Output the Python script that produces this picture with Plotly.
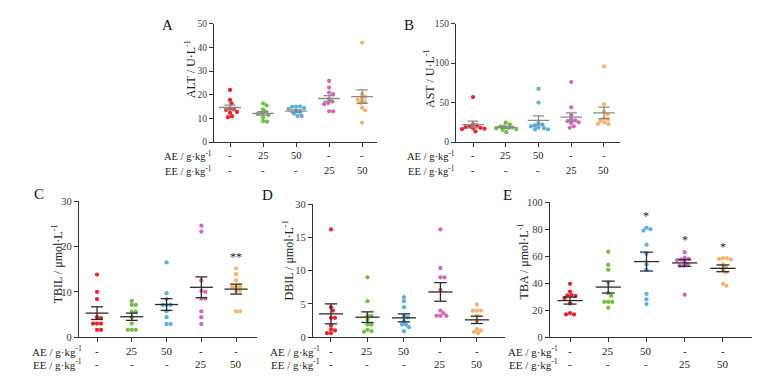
import plotly.graph_objects as go

# The page body has an 8px default margin, so the figure is drawn 8px in from
# the window's top-left corner; all pixel positions below are window pixels.
WIN_W, WIN_H = 769, 380
OFF = 8
W, H = WIN_W - OFF, WIN_H - OFF

# ---------------- data ----------------
AE_dose = ["-", "25", "50", "-", "-"]
EE_dose = ["-", "-", "-", "25", "50"]
group_colors = ["#e8262b", "#72bf44", "#5cafe2", "#d766bb", "#f8b46c"]

ALT_values = [
    [22.0, 17.8, 16.3, 14.1, 13.8, 13.5, 12.7, 12.3, 10.9, 10.5],
    [16.3, 15.5, 13.8, 12.7, 12.3, 11.8, 11.4, 10.5, 8.9, 8.6],
    [15.0, 15.0, 14.9, 14.3, 14.0, 13.4, 12.7, 12.0, 11.0, 11.0],
    [25.8, 23.0, 20.9, 20.2, 18.2, 17.1, 16.5, 16.0, 13.0, 13.0],
    [42.0, 20.2, 19.1, 18.2, 17.9, 17.1, 16.5, 14.5, 13.4, 8.2],
]
ALT_mean = [14.6, 12.1, 13.1, 18.4, 19.2]
ALT_sem = [1.0, 0.7, 0.5, 1.2, 2.8]
ALT_ticks = [0, 10, 20, 30, 40, 50]
ALT_ticklabels = ["0", "10", "20", "30", "40", "50"]

AST_values = [
    [57.0, 22.5, 21.0, 20.0, 19.0, 18.0, 17.5, 17.0, 16.5, 13.5],
    [24.5, 22.5, 20.0, 19.5, 18.5, 18.0, 17.5, 16.5, 15.5, 12.5],
    [67.5, 50.0, 24.0, 22.0, 21.0, 20.0, 18.5, 17.5, 16.0, 16.0],
    [76.0, 44.0, 34.0, 29.0, 27.5, 26.5, 25.0, 24.0, 20.0, 18.0],
    [96.0, 48.0, 38.0, 35.0, 30.0, 29.0, 27.0, 25.0, 23.0, 23.0],
]
AST_mean = [22.2, 18.5, 27.5, 31.5, 37.0]
AST_sem = [4.3, 1.1, 5.6, 5.4, 7.3]
AST_ticks = [0, 50, 100, 150]
AST_ticklabels = ["0", "50", "100", "150"]

TBIL_values = [
    [13.8, 10.0, 8.4, 4.4, 4.2, 3.0, 3.0, 3.0, 1.6, 1.6],
    [8.0, 7.1, 7.1, 5.6, 5.6, 4.4, 3.0, 1.6, 1.6, 1.6],
    [16.5, 9.7, 8.4, 7.1, 7.1, 7.1, 5.7, 4.4, 2.9, 2.9],
    [24.6, 23.3, 12.5, 10.2, 10.0, 8.5, 8.5, 5.7, 4.4, 2.9],
    [15.2, 13.9, 12.5, 11.1, 11.1, 11.1, 10.2, 10.2, 5.7, 5.7],
]
TBIL_mean = [5.3, 4.5, 7.2, 11.0, 10.6]
TBIL_sem = [1.4, 0.8, 1.3, 2.3, 1.1]
TBIL_ticks = [0, 10, 20, 30]
TBIL_ticklabels = ["0", "10", "20", "30"]
TBIL_sig = ["", "", "", "", "**"]

DBIL_values = [
    [16.2, 4.5, 4.0, 2.9, 2.9, 1.8, 1.2, 1.0, 0.6, 0.6],
    [9.0, 5.4, 3.2, 3.2, 2.6, 1.9, 1.9, 1.1, 0.9, 0.8],
    [6.0, 5.4, 4.5, 3.2, 3.0, 2.4, 1.9, 1.9, 1.5, 0.9],
    [16.2, 10.4, 9.0, 9.0, 7.1, 4.0, 3.6, 3.2, 3.2, 3.2],
    [4.9, 4.0, 4.0, 4.0, 3.2, 2.4, 1.2, 1.0, 0.8, 0.6],
]
DBIL_mean = [3.5, 3.0, 2.9, 6.8, 2.6]
DBIL_sem = [1.5, 0.8, 0.6, 1.4, 0.55]
DBIL_ticks = [0, 5, 10, 15, 20]
DBIL_ticklabels = ["0", "5", "10", "15", "30"]

TBA_values = [
    [39.5, 33.8, 31.2, 31.0, 30.5, 29.0, 25.0, 17.8, 16.8, 16.8],
    [63.3, 53.5, 49.9, 40.3, 32.6, 30.7, 26.1, 26.1, 26.1, 21.8],
    [81.0, 80.0, 79.0, 68.5, 62.0, 54.0, 50.0, 32.0, 28.0, 24.5],
    [63.0, 59.0, 58.0, 57.5, 57.0, 56.0, 54.0, 53.0, 53.0, 31.5],
    [58.5, 58.5, 58.0, 57.5, 54.0, 52.0, 50.0, 48.0, 39.5, 38.0],
]
TBA_mean = [27.1, 37.1, 56.0, 55.0, 51.0]
TBA_sem = [2.6, 4.4, 7.0, 2.5, 2.5]
TBA_ticks = [0, 20, 40, 60, 80, 100]
TBA_ticklabels = ["0", "20", "40", "60", "80", "100"]
TBA_sig = ["", "", "*", "*", "*"]

# ---------------- layout spec (window pixels) ----------------
panels = [
    dict(letter="A", vals=ALT_values, mean=ALT_mean, sem=ALT_sem,
         title="ALT / U·L<sup>-1</sup>", ticks=ALT_ticks, ticklabels=ALT_ticklabels,
         yrange=[0, 50], xpx=(214, 377), ypx=(19, 141), xrange=[-0.485, 4.45],
         top=True, letter_xy=(167.5, 20), title_xy=(190, 66), row_right=214,
         row_y=(155, 170), sig=None),
    dict(letter="B", vals=AST_values, mean=AST_mean, sem=AST_sem,
         title="AST / U·L<sup>-1</sup>", ticks=AST_ticks, ticklabels=AST_ticklabels,
         yrange=[0, 150], xpx=(456, 620), ypx=(19, 141), xrange=[-0.52, 4.49],
         top=True, letter_xy=(409, 20), title_xy=(430, 76), row_right=457,
         row_y=(155, 170), sig=None),
    dict(letter="C", vals=TBIL_values, mean=TBIL_mean, sem=TBIL_sem,
         title="TBIL / μmol·L<sup>-1</sup>", ticks=TBIL_ticks, ticklabels=TBIL_ticklabels,
         yrange=[0, 30], xpx=(79, 257), ypx=(202, 342), xrange=[-0.518, 4.60],
         top=False, letter_xy=(39, 195), title_xy=(57, 267), row_right=84,
         row_y=(356, 370), sig=TBIL_sig),
    dict(letter="D", vals=DBIL_values, mean=DBIL_mean, sem=DBIL_sem,
         title="DBIL / μmol·L<sup>-1</sup>", ticks=DBIL_ticks, ticklabels=DBIL_ticklabels,
         yrange=[0, 20], xpx=(313, 505), ypx=(205, 342), xrange=[-0.493, 4.77],
         top=False, letter_xy=(267.5, 196), title_xy=(288, 263), row_right=322,
         row_y=(356, 370), sig=None),
    dict(letter="E", vals=TBA_values, mean=TBA_mean, sem=TBA_sem,
         title="TBA / μmol·L<sup>-1</sup>", ticks=TBA_ticks, ticklabels=TBA_ticklabels,
         yrange=[0, 100], xpx=(550, 752), ypx=(203, 342), xrange=[-0.523, 4.76],
         top=False, letter_xy=(507, 196), title_xy=(523, 264), row_right=560,
         row_y=(356, 370), sig=TBA_sig),
]

SERIF = "Liberation Serif, Times New Roman, serif"
AXIS_COLOR = "#333333"


def px_x(x):
    return (x - OFF) / W


def px_y(y):
    return 1 - (y - OFF) / H


def swarm(vals, xpu, ypu, d):
    placed, offs = [], []
    for v in vals:
        y = v * ypu
        x = 0.0
        for step in range(400):
            k = (step + 1) // 2
            cand = 0.0 if step == 0 else (k * 0.5 if step % 2 == 1 else -k * 0.5)
            if all((cand - px) ** 2 + (y - py) ** 2 >= d * d for px, py in placed):
                x = cand
                break
        placed.append((x, y))
        offs.append(x / xpu)
    return offs


fig = go.Figure()
annotations = []
layout = {}

for idx, p in enumerate(panels):
    n = idx + 1
    xa = "x" if n == 1 else f"x{n}"
    ya = "y" if n == 1 else f"y{n}"
    xkey = "xaxis" if n == 1 else f"xaxis{n}"
    ykey = "yaxis" if n == 1 else f"yaxis{n}"

    x0, x1 = p["xpx"]
    yt, yb = p["ypx"]
    xpu = (x1 - x0) / (p["xrange"][1] - p["xrange"][0])
    ypu = (yb - yt) / (p["yrange"][1] - p["yrange"][0])

    line_col = "#8a8a8a" if p["top"] else "#2b2b2b"
    tick_fs = 9.5 if p["top"] else 10.5
    row_fs = 10.5 if p["top"] else 11

    # points
    for g, vals in enumerate(p["vals"]):
        offs = swarm(vals, xpu, ypu, 3.9)
        fig.add_trace(go.Scatter(
            x=[g + o for o in offs], y=vals, mode="markers",
            marker=dict(size=4.3, color=group_colors[g], line=dict(width=0)),
            xaxis=xa, yaxis=ya, showlegend=False, hoverinfo="skip"))

    # mean +/- SEM
    lx, ly = [], []
    for g, (m, s) in enumerate(zip(p["mean"], p["sem"])):
        lx += [g - 0.33, g + 0.33, None, g, g, None,
               g - 0.17, g + 0.17, None, g - 0.17, g + 0.17, None]
        ly += [m, m, None, m - s, m + s, None,
               m + s, m + s, None, m - s, m - s, None]
    fig.add_trace(go.Scatter(x=lx, y=ly, mode="lines",
                             line=dict(color=line_col, width=1.3),
                             xaxis=xa, yaxis=ya, showlegend=False, hoverinfo="skip"))

    layout[xkey] = dict(domain=[px_x(x0), px_x(x1)], range=p["xrange"], anchor=ya,
                        showline=True, linecolor=AXIS_COLOR, linewidth=1.4,
                        tickvals=[0, 1, 2, 3, 4], ticks="outside", ticklen=4,
                        tickwidth=1.2, tickcolor=AXIS_COLOR, showticklabels=False,
                        showgrid=False, zeroline=False, fixedrange=True)
    layout[ykey] = dict(domain=[px_y(yb), px_y(yt)], range=p["yrange"], anchor=xa,
                        showline=True, linecolor=AXIS_COLOR, linewidth=1.4,
                        tickvals=p["ticks"], ticktext=p["ticklabels"],
                        ticks="outside", ticklen=4, tickwidth=1.2, tickcolor=AXIS_COLOR,
                        tickfont=dict(family=SERIF, size=tick_fs, color="#3a3a3a"),
                        showgrid=False, zeroline=False, fixedrange=True)

    # panel letter
    lxp, lyp = p["letter_xy"]
    annotations.append(dict(text=p["letter"], x=px_x(lxp), y=px_y(lyp), xref="paper",
                            yref="paper", showarrow=False, xanchor="center",
                            yanchor="middle", font=dict(family=SERIF, size=15, color="#111")))
    # y title
    tx, ty = p["title_xy"]
    annotations.append(dict(text=p["title"], x=px_x(tx), y=px_y(ty), xref="paper",
                            yref="paper", showarrow=False, textangle=-90,
                            xanchor="center", yanchor="middle",
                            font=dict(family=SERIF, size=12, color="#222")))
    # dose table
    for row_label, doses, rowy in (("AE / g·kg<sup>-1</sup>", AE_dose, p["row_y"][0]),
                                   ("EE / g·kg<sup>-1</sup>", EE_dose, p["row_y"][1])):
        annotations.append(dict(text=row_label, x=px_x(p["row_right"]), y=px_y(rowy),
                                xref="paper", yref="paper", showarrow=False,
                                xanchor="right", yanchor="middle",
                                font=dict(family=SERIF, size=row_fs, color="#222")))
        for g, dtxt in enumerate(doses):
            annotations.append(dict(text=dtxt, x=g, y=px_y(rowy), xref=xa,
                                    yref="paper", showarrow=False, xanchor="center",
                                    yanchor="middle",
                                    font=dict(family=SERIF, size=row_fs, color="#222")))
    # significance marks
    if p["sig"]:
        for g, mark in enumerate(p["sig"]):
            if mark:
                ymax = max(p["vals"][g])
                annotations.append(dict(text=mark, x=g, y=ymax + 12 / ypu, xref=xa,
                                        yref=ya, showarrow=False, xanchor="center",
                                        yanchor="middle",
                                        font=dict(family=SERIF, size=12, color="#222")))

fig.update_layout(width=W, height=H, margin=dict(l=0, r=0, t=0, b=0),
                  paper_bgcolor="white", plot_bgcolor="white",
                  annotations=annotations, showlegend=False, **layout)

fig.write_html("out.html")
